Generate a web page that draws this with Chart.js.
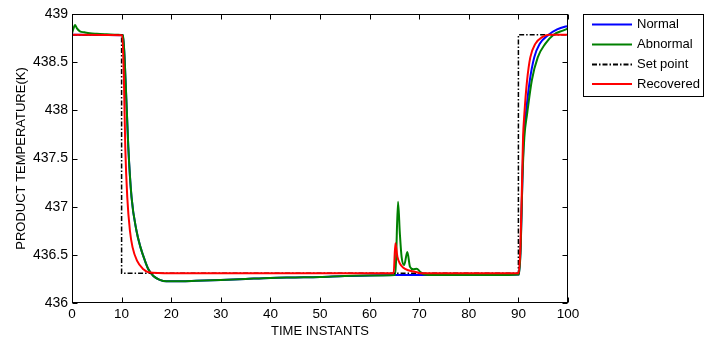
<!DOCTYPE html>
<html>
<head>
<meta charset="utf-8">
<script src="https://cdn.jsdelivr.net/npm/chart.js@4.4.1/dist/chart.umd.min.js"></script>
<style>
html,body{margin:0;padding:0;background:#fff;}
#wrap{width:714px;height:339px;position:relative;}
</style>
</head>
<body>
<div id="wrap"><canvas id="c" width="714" height="339"></canvas></div>
<script>
// ---- tick labels ----
const xTickValues = [0,10,20,30,40,50,60,70,80,90,100];
const yTickValues = [436,436.5,437,437.5,438,438.5,439];

// ---- series labels ----
const seriesLabels = ["Normal","Abnormal","Set point","Recovered"];

// ---- Normal (blue) ----
const normalT = [0,10.3,10.8,11.35,12.0,13.0,13.8,14.7,15.4,16.4,17.7,19,22,25,30,35,40,45,50,55,60,65,71,80,90.1,90.45,90.8,91.07,91.5,92.3,93.2,94.3,96.1,97.8,99.5,100];
const normalY = [438.785,438.78,438.31,437.62,437.10,436.75,436.58,436.44,436.35,436.28,436.24,436.225,436.225,436.23,436.24,436.25,436.26,436.265,436.27,436.28,436.285,436.29,436.29,436.29,436.295,436.58,437.27,437.72,437.96,438.31,438.55,438.69,438.785,438.84,438.87,438.875];

// ---- Abnormal (green) ----
const abnormalT = [0,0.3,0.6,1.0,1.6,2.5,3.6,5,7,9.3,10.3,10.8,11.35,12.0,13.0,13.8,14.7,15.4,16.4,17.7,19,22,25,30,35,40,45,50,55,60,65.1,65.3,65.73,66.1,66.45,66.98,67.6,68.15,68.8,69.5,70.16,70.8,72,80,88,90.1,90.47,90.8,91.2,91.75,92.7,93.9,95.4,97.1,99.1,100];
const abnormalY = [438.80,438.85,438.885,438.85,438.82,438.81,438.80,438.795,438.79,438.785,438.78,438.31,437.62,437.10,436.75,436.58,436.44,436.35,436.28,436.24,436.225,436.225,436.23,436.24,436.25,436.26,436.265,436.27,436.28,436.285,436.29,436.40,437.05,436.72,436.48,436.395,436.53,436.375,436.35,436.355,436.325,436.30,436.29,436.29,436.29,436.295,436.58,437.27,437.72,437.96,438.31,438.55,438.69,438.785,438.83,438.85];

// ---- Set point (black dash-dot) ----
const setT = [0,10,10,90,90,100];
const setY = [438.785,438.785,436.31,436.31,438.785,438.785];

// ---- Recovered (red) ----
const recoveredT = [0,10.15,10.47,10.74,11.14,11.68,12.2,13.1,14.4,15.4,20,30,40,50,60,64.85,65.2,65.6,66.1,66.8,67.8,69.1,70.2,80,90.05,90.4,90.74,90.94,91.2,91.75,92.4,93.4,94.8,96.1,100];
const recoveredY = [438.785,438.78,438.31,437.62,437.10,436.75,436.58,436.44,436.35,436.32,436.31,436.31,436.31,436.31,436.31,436.31,436.62,436.48,436.41,436.365,436.34,436.325,436.31,436.31,436.31,436.58,437.27,437.72,437.96,438.31,438.55,438.69,438.76,438.785,438.785];

const pts = (T, Y) => T.map((t, i) => ({x: t, y: Y[i]}));
const FONT = "'Liberation Sans', Arial, Helvetica, sans-serif";
Chart.defaults.font.family = FONT;
Chart.defaults.color = '#000';

const frameTicks = {
  id: 'frameTicks',
  afterDraw(chart) {
    const {ctx, chartArea: a, scales} = chart;
    const L = Math.round(a.left) + 0.5, R = Math.round(a.right) - 0.5;
    const T = Math.round(a.top) + 0.5, B = Math.round(a.bottom) - 0.5;
    ctx.save();
    ctx.strokeStyle = '#000';
    ctx.lineWidth = 1;
    ctx.setLineDash([]);
    ctx.strokeRect(L, T, R - L, B - T);
    ctx.beginPath();
    const tl = 5;
    scales.x.ticks.forEach(t => {
      const px = Math.round(scales.x.getPixelForValue(t.value)) + 0.5;
      ctx.moveTo(px, B); ctx.lineTo(px, B - tl);
      ctx.moveTo(px, T); ctx.lineTo(px, T + tl);
    });
    scales.y.ticks.forEach(t => {
      const py = Math.round(scales.y.getPixelForValue(t.value)) + 0.5;
      ctx.moveTo(L, py); ctx.lineTo(L + tl, py);
      ctx.moveTo(R, py); ctx.lineTo(R - tl, py);
    });
    ctx.stroke();

    // legend box
    const bx = 583.5, by = 14.5, bw = 120, bh = 82;
    ctx.fillStyle = '#fff';
    ctx.fillRect(bx, by, bw, bh);
    ctx.strokeRect(bx, by, bw, bh);
    const rows = [24.5, 44.5, 64.5, 84];
    ctx.font = '13px ' + FONT;
    ctx.textBaseline = 'middle';
    ctx.textAlign = 'left';
    chart.data.datasets.forEach((ds, i) => {
      const y = rows[i];
      ctx.beginPath();
      ctx.strokeStyle = ds.borderColor;
      ctx.lineWidth = 2;
      ctx.setLineDash(ds.borderDash || []);
      ctx.moveTo(592, y); ctx.lineTo(632, y);
      ctx.stroke();
      ctx.fillStyle = '#000';
      ctx.fillText(ds.label, 637, y);
    });
    ctx.restore();
  }
};

new Chart(document.getElementById('c'), {
  type: 'line',
  data: {
    datasets: [
      {label: seriesLabels[0], data: pts(normalT, normalY), borderColor: '#0000ff', borderWidth: 2, pointRadius: 0, cubicInterpolationMode: 'monotone', order: 4, borderJoinStyle: 'round'},
      {label: seriesLabels[1], data: pts(abnormalT, abnormalY), borderColor: '#008000', borderWidth: 2, pointRadius: 0, cubicInterpolationMode: 'monotone', order: 3, borderJoinStyle: 'round'},
      {label: seriesLabels[2], data: pts(setT, setY), borderColor: '#000000', borderWidth: 1.5, borderDash: [5,2,1.5,2], pointRadius: 0, tension: 0, order: 2},
      {label: seriesLabels[3], data: pts(recoveredT, recoveredY), borderColor: '#ff0000', borderWidth: 2, pointRadius: 0, cubicInterpolationMode: 'monotone', order: 1, borderJoinStyle: 'round'}
    ]
  },
  options: {
    responsive: false,
    animation: false,
    devicePixelRatio: 1,
    layout: {padding: {left: 10, right: 146, top: 14, bottom: 0}},
    plugins: {legend: {display: false}, tooltip: {enabled: false}},
    scales: {
      x: {
        type: 'linear', min: 0, max: 100,
        afterBuildTicks: s => { s.ticks = xTickValues.map(v => ({value: v})); },
        grid: {display: false, drawTicks: false},
        border: {display: false},
        ticks: {font: {size: 13.5}, padding: 3, maxRotation: 0, color: '#000', callback: v => String(v)},
        title: {display: true, text: 'TIME INSTANTS', font: {size: 13}, padding: {top: 1, bottom: 0}, color: '#000'},
        afterFit: s => { s.height = 36; }
      },
      y: {
        type: 'linear', min: 436, max: 439,
        afterBuildTicks: s => { s.ticks = yTickValues.map(v => ({value: v})); },
        grid: {display: false, drawTicks: false},
        border: {display: false},
        ticks: {font: {size: 14}, padding: 4, color: '#000', callback: v => String(v)},
        title: {display: true, text: 'PRODUCT TEMPERATURE(K)', font: {size: 13}, padding: {top: 4, bottom: 4}, color: '#000'},
        afterFit: s => { s.width = 62; }
      }
    }
  },
  plugins: [frameTicks]
});
</script>
</body>
</html>
